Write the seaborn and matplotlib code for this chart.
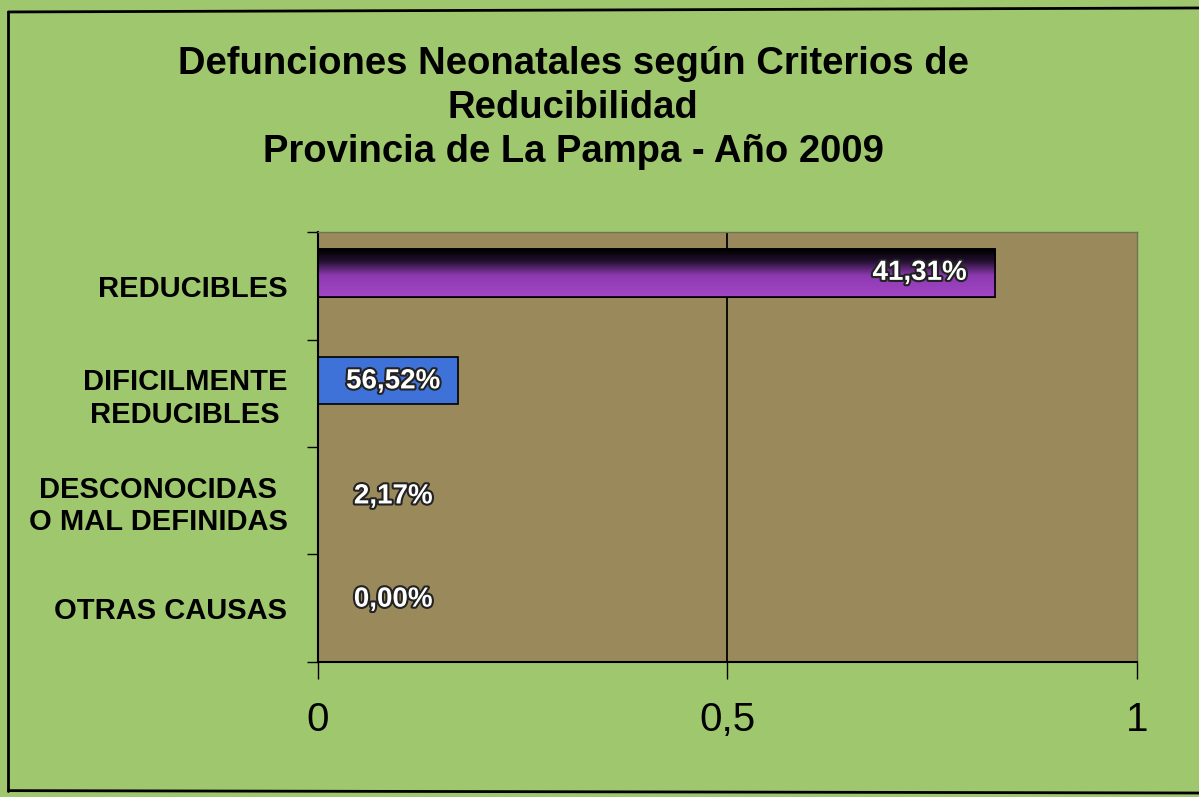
import pandas as pd
import matplotlib.pyplot as plt
import matplotlib.patheffects as pe
import seaborn as sns
import numpy as np
from matplotlib.colors import LinearSegmentedColormap

# Datos
categorias = ['REDUCIBLES', 'DIFICILMENTE\nREDUCIBLES',
              'DESCONOCIDAS\nO MAL DEFINIDAS', 'OTRAS CAUSAS']
valores = [0.827, 0.171, 0.0, 0.0]
etiquetas = ['41,31%', '56,52%', '2,17%', '0,00%']
colores = ['#a042c4', '#3f72d8', '#a042c4', '#a042c4']

df = pd.DataFrame({'categoria': categorias, 'valor': valores})

sns.set_theme(style='white')
plt.rcParams['font.family'] = ['Liberation Sans', 'DejaVu Sans']
plt.rcParams['text.color'] = 'black'
plt.rcParams['xtick.color'] = 'black'
plt.rcParams['ytick.color'] = 'black'

fig = plt.figure(figsize=(11.99, 7.97), dpi=100, facecolor='#9fc76d')
ax = fig.add_axes([0.2652, 0.1694, 0.6831, 0.5395])
ax.set_facecolor('#9a895b')

sns.barplot(data=df, x='valor', y='categoria', hue='categoria', palette=colores,
            orient='h', width=0.44, saturation=1, edgecolor='black', linewidth=1.2,
            legend=False, ax=ax)

# las barras van algo por encima del centro de la fila
for p in ax.patches:
    p.set_y(p.get_y() - 0.12)

# degradado negro -> violeta en la barra de REDUCIBLES
barra = ax.patches[0]
x0, y0 = barra.get_x(), barra.get_y()
w, h = barra.get_width(), barra.get_height()
cmap = LinearSegmentedColormap.from_list('grad', [(0, '#000000'), (0.25, '#241030'),
                                                  (0.55, '#8c3ab0'), (1, '#a446c8')])
grad = np.linspace(0, 1, 100).reshape(-1, 1)
img = ax.imshow(grad, cmap=cmap, aspect='auto', origin='upper',
                extent=[x0, x0 + w, y0 + h, y0],
                zorder=barra.get_zorder() + 0.1)
img.set_clip_path(barra)
ax.add_patch(plt.Rectangle((x0, y0), w, h, fill=False, edgecolor='black',
                           linewidth=1.2, zorder=barra.get_zorder() + 0.2))

ax.set_xlim(0, 1)
ax.set_ylim(3.5, -0.5)
ax.axvline(0.5, color='black', linewidth=1.3, zorder=1)

# etiquetas de datos
efecto = [pe.withStroke(linewidth=3, foreground='#222222')]
ydesp = [-0.12, -0.11, -0.04, -0.08]
for i, (v, t) in enumerate(zip(valores, etiquetas)):
    if v > 0.5:
        xpos, ha = v - 0.035, 'right'
    else:
        xpos, ha = 0.092, 'center'
    ax.text(xpos, i + ydesp[i], t, ha=ha, va='center', color='white', fontsize=20,
            fontweight='bold', path_effects=efecto, zorder=5)

ax.set_xticks([0, 0.5, 1])
ax.set_xticklabels(['0', '0,5', '1'], fontsize=29)
ax.tick_params(axis='x', direction='out', length=12, width=1, color='black', pad=16,
               bottom=True)
ax.tick_params(axis='y', length=0, pad=22)
ax.set_yticks(np.arange(-0.5, 4, 1), minor=True)
ax.tick_params(axis='y', which='minor', direction='out', length=8, width=1,
               color='black', left=True)
for lbl in ax.get_yticklabels():
    lbl.set_fontsize(21)
    lbl.set_fontweight('bold')
    lbl.set_multialignment('center')
ax.set_xlabel('')
ax.set_ylabel('')

for lado in ['left', 'bottom']:
    ax.spines[lado].set_color('black')
    ax.spines[lado].set_linewidth(1.5)
for lado in ['top', 'right']:
    ax.spines[lado].set_color('#6f7255')
    ax.spines[lado].set_linewidth(1)

fig.text(0.478, 0.8645,
         'Defunciones Neonatales según Criterios de\nReducibilidad\nProvincia de La Pampa - Año 2009',
         ha='center', va='center', fontsize=27.5, fontweight='bold', linespacing=1.27)

# marco
fig.add_artist(plt.Line2D([0.007, 1], [0.985, 0.99], color='black', linewidth=2))
fig.add_artist(plt.Line2D([0.007, 0.007], [0.008, 0.985], color='black', linewidth=2))
fig.add_artist(plt.Line2D([0.007, 1], [0.008, 0.005], color='black', linewidth=2))

fig.savefig('out.png', dpi=100, facecolor=fig.get_facecolor())
